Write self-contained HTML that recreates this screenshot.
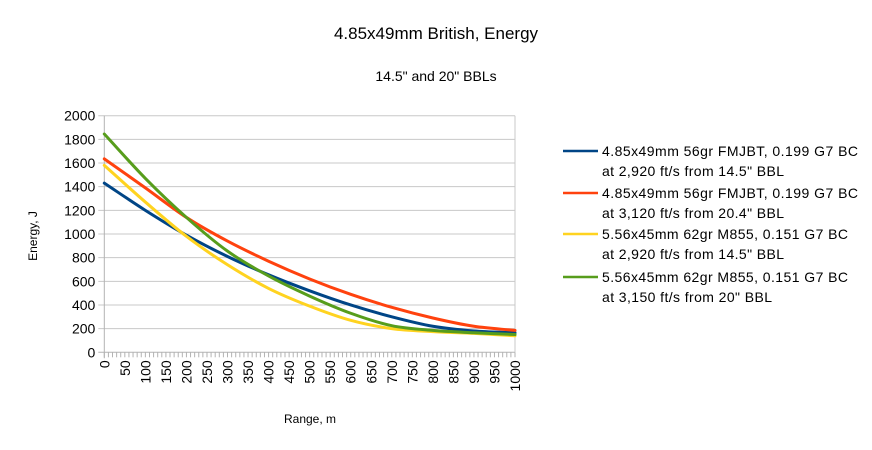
<!DOCTYPE html>
<html><head><meta charset="utf-8"><style>
html,body{margin:0;padding:0;background:#fff;}
svg{display:block;font-family:"Liberation Sans",sans-serif;}
</style></head><body>
<svg id="s" width="872" height="450" xmlns="http://www.w3.org/2000/svg">
<rect width="872" height="450" fill="#fff"/>
<text x="436" y="39" font-size="17" text-anchor="middle">4.85x49mm British, Energy</text>
<text x="436" y="81" font-size="14" text-anchor="middle">14.5" and 20" BBLs</text>
<text transform="translate(37,236) rotate(-90)" font-size="12" text-anchor="middle">Energy, J</text>
<text x="310" y="423" font-size="12" text-anchor="middle">Range, m</text>
<g id="grid"></g>
<g id="curves" fill="none" stroke-width="3" stroke-linejoin="round" stroke-linecap="round"></g>
<g font-size="14">
<line x1="563" y1="151" x2="598" y2="151" stroke="#004586" stroke-width="2.5"/>
<text x="602" y="156" textLength="256">4.85x49mm 56gr FMJBT, 0.199 G7 BC</text>
<text x="602" y="176" textLength="182">at 2,920 ft/s from 14.5" BBL</text>
<line x1="563" y1="193" x2="598" y2="193" stroke="#ff420e" stroke-width="2.5"/>
<text x="602" y="198" textLength="256">4.85x49mm 56gr FMJBT, 0.199 G7 BC</text>
<text x="602" y="218" textLength="182">at 3,120 ft/s from 20.4" BBL</text>
<line x1="563" y1="234" x2="598" y2="234" stroke="#ffd320" stroke-width="2.5"/>
<text x="602" y="239" textLength="246">5.56x45mm 62gr M855, 0.151 G7 BC</text>
<text x="602" y="259" textLength="182">at 2,920 ft/s from 14.5" BBL</text>
<line x1="563" y1="277" x2="598" y2="277" stroke="#579d1c" stroke-width="2.5"/>
<text x="602" y="282" textLength="246">5.56x45mm 62gr M855, 0.151 G7 BC</text>
<text x="602" y="302" textLength="170">at 3,150 ft/s from 20" BBL</text>
</g>
</svg>
<script>
var NS="http://www.w3.org/2000/svg",x0=104.3,x1=515,y0=352.3,yt=115.7;
function X(m){return x0+(x1-x0)*m/1000}function Y(v){return y0-(y0-yt)*v/2000}
var g=document.getElementById('grid'),h='';
for(var v=0;v<=2000;v+=200){var y=Y(v);h+='<line x1="'+(x0-6)+'" y1="'+y+'" x2="'+x1+'" y2="'+y+'" stroke="'+(v==0?'#b3b3b3':'#c8c8c8')+'" stroke-width="1"/>';
h+='<text x="'+(x0-9)+'" y="'+(y+5)+'" font-size="14" text-anchor="end">'+v+'</text>';}
h+='<line x1="'+x0+'" y1="'+yt+'" x2="'+x0+'" y2="'+(y0+6)+'" stroke="#b3b3b3"/>';
h+='<line x1="'+x1+'" y1="'+yt+'" x2="'+x1+'" y2="'+y0+'" stroke="#c8c8c8"/>';
for(var m=0;m<=1000;m+=10){var x=X(m);h+='<line x1="'+x+'" y1="'+y0+'" x2="'+x+'" y2="'+(y0+5)+'" stroke="#b3b3b3"/>';}
for(var m=0;m<=1000;m+=50){var x=X(m)+5;h+='<text transform="translate('+x+','+(y0+8)+') rotate(-90)" font-size="14" text-anchor="end">'+m+'</text>';}
g.innerHTML=h;
var D=[["#004586",[1430,1200,990,810,655,520,400,300,220,180,165]],
["#ff420e",[1635,1390,1140,940,770,620,490,380,290,220,185]],
["#ffd320",[1580,1270,980,740,540,390,270,200,175,160,140]],
["#579d1c",[1845,1470,1140,855,645,475,330,225,185,165,150]]];
var c='';
D.forEach(function(s){var p=s[1],d='M'+X(0)+','+Y(p[0]);
function P(i){if(i<0)return 2*p[0]-p[1];if(i>10)return 2*p[10]-p[9];return p[i];}
for(var i=0;i<10;i++){var a=P(i-1),b=p[i],e=p[i+1],f=P(i+2);
var c1=b+(e-a)/6,c2=e-(f-b)/6;
d+=' C'+X(i*100+33.3)+','+Y(c1)+' '+X(i*100+66.7)+','+Y(c2)+' '+X(i*100+100)+','+Y(e);}
c+='<path d="'+d+'" stroke="'+s[0]+'"/>';});
document.getElementById('curves').innerHTML=c;
</script>
</body></html>
